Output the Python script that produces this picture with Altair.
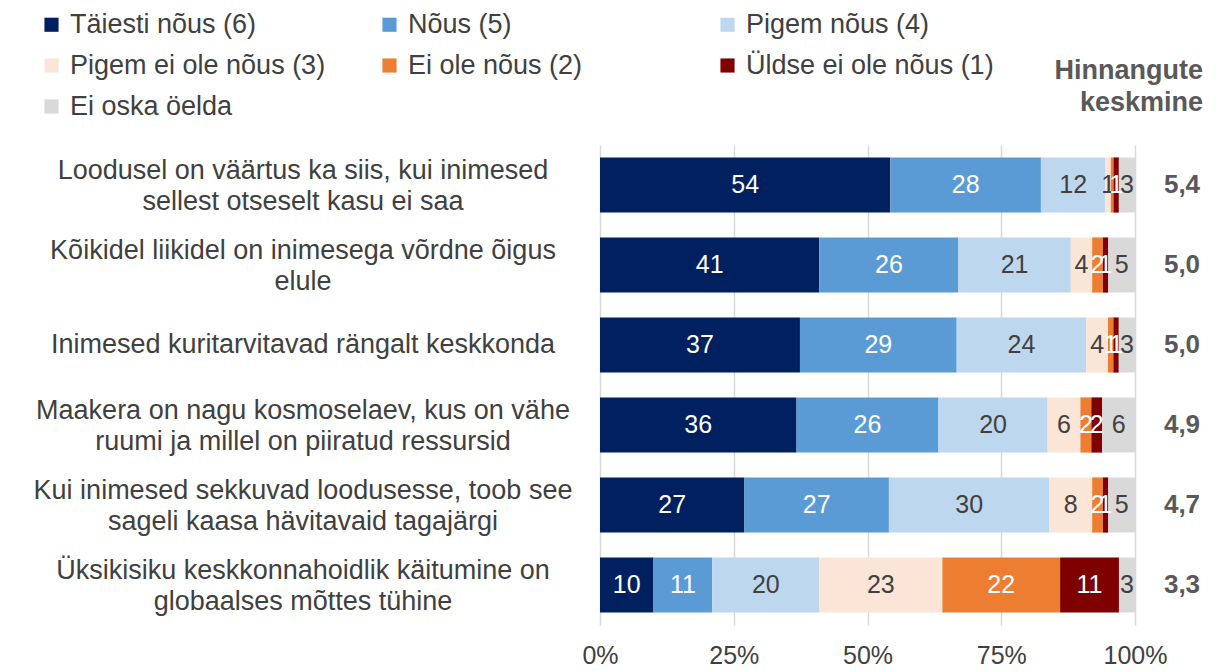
import altair as alt
import pandas as pd

questions = [
    "Loodusel on väärtus ka siis, kui inimesed\nsellest otseselt kasu ei saa",
    "Kõikidel liikidel on inimesega võrdne õigus\nelule",
    "Inimesed kuritarvitavad rängalt keskkonda",
    "Maakera on nagu kosmoselaev, kus on vähe\nruumi ja millel on piiratud ressursid",
    "Kui inimesed sekkuvad loodusesse, toob see\nsageli kaasa hävitavaid tagajärgi",
    "Üksikisiku keskkonnahoidlik käitumine on\nglobaalses mõttes tühine",
]
categories = [
    "Täiesti nõus (6)", "Nõus (5)", "Pigem nõus (4)",
    "Pigem ei ole nõus (3)", "Ei ole nõus (2)", "Üldse ei ole nõus (1)",
    "Ei oska öelda",
]
colors = ["#002060", "#5B9BD5", "#BDD7EE", "#FBE5D6", "#ED7D31", "#7F0000", "#D9D9D9"]
values = [
    [54, 28, 12, 1, 0.5, 1, 3],
    [41, 26, 21, 4, 2, 1, 5],
    [37, 29, 24, 4, 1, 1, 3],
    [36, 26, 20, 6, 2, 2, 6],
    [27, 27, 30, 8, 2, 1, 5],
    [10, 11, 20, 23, 22, 11, 3],
]
means = ["5,4", "5,0", "5,0", "4,9", "4,7", "3,3"]
header = "Hinnangute\nkeskmine"
x_ticks = [0, 0.25, 0.5, 0.75, 1]

rows = []
for q, vals in zip(questions, values):
    for i, (c, v) in enumerate(zip(categories, vals)):
        rows.append({"question": q, "category": c, "order": i, "value": v})
df = pd.DataFrame(rows)
mean_df = pd.DataFrame({"question": questions, "mean": means})
q_df = pd.DataFrame({"question": questions})
h_df = pd.DataFrame({"t": [header]})

FONT = "Liberation Sans"
TXT = "#404040"
QFS = 27
QLH = 31

y_enc = alt.Y("question:N", sort=questions, axis=None,
              scale=alt.Scale(paddingInner=0.31, paddingOuter=0.155))

base = alt.Chart(df).transform_stack(
    stack="value", groupby=["question"], as_=["x0", "x1"],
    sort=[alt.SortField("order", order="ascending")], offset="normalize"
).transform_calculate(mid="(datum.x0 + datum.x1) / 2",
                      lbl="datum.value >= 1 ? format(datum.value, '.0f') : ''")

bars = base.mark_bar().encode(
    x=alt.X("x0:Q", scale=alt.Scale(domain=[0, 1], nice=False),
            axis=alt.Axis(values=x_ticks, format=".0%", title=None, grid=True,
                          gridColor="#D9D9D9", gridWidth=1.5, domain=False, ticks=False,
                          labelFontSize=25, labelColor=TXT, labelFont=FONT,
                          labelPadding=18, labelFlush=False)),
    x2="x1:Q",
    y=y_enc,
    color=alt.Color("category:N", sort=categories,
                    scale=alt.Scale(domain=categories, range=colors),
                    legend=alt.Legend(title=None, orient="none", legendX=-562, legendY=-134,
                                      direction="horizontal",
                                      columns=3, gridAlign="all", symbolType="square",
                                      symbolSize=200, symbolStrokeWidth=0,
                                      labelFontSize=QFS, labelFont=FONT, labelColor=TXT,
                                      labelLimit=0, columnPadding=50, rowPadding=13,
                                      labelOffset=5)),
)

labels = base.mark_text(fontSize=25, font=FONT).encode(
    x="mid:Q",
    y=y_enc,
    text="lbl:N",
    color=alt.condition(
        alt.FieldOneOfPredicate(field="category",
                                oneOf=[categories[0], categories[1], categories[4], categories[5]]),
        alt.value("white"), alt.value(TXT)),
)

q_single = alt.Chart(q_df).transform_filter(
    "indexof(datum.question, '\\n') < 0"
).mark_text(fontSize=QFS, font=FONT, color=TXT, align="center",
            baseline="middle").encode(
    x=alt.value(-297), y=y_enc, text="question:N")

q_double = alt.Chart(q_df).transform_filter(
    "indexof(datum.question, '\\n') >= 0"
).mark_text(fontSize=QFS, font=FONT, color=TXT, align="center",
            baseline="middle", lineBreak="\n", lineHeight=QLH, dy=-QLH / 2 + 1).encode(
    x=alt.value(-297), y=y_enc, text="question:N")

mlabels = alt.Chart(mean_df).mark_text(fontSize=26, font=FONT, color="#595959",
                                       fontWeight="bold", align="center").encode(
    x=alt.value(582), y=y_enc, text="mean:N")

hlabel = alt.Chart(h_df).mark_text(fontSize=27, font=FONT, color="#595959", fontWeight="bold",
                                   align="right", baseline="middle", lineBreak="\n",
                                   lineHeight=32).encode(
    x=alt.value(603), y=alt.value(-74), text="t:N")

chart = alt.layer(bars, labels, q_single, q_double, mlabels, hlabel).properties(
    width=535, height=480,
    padding={"left": 592, "top": 137, "right": 70, "bottom": 48},
    autosize=alt.AutoSizeParams(type="none"),
).configure_view(stroke=None)

chart.save("out.html", embed_options={"renderer": "svg", "actions": False})
